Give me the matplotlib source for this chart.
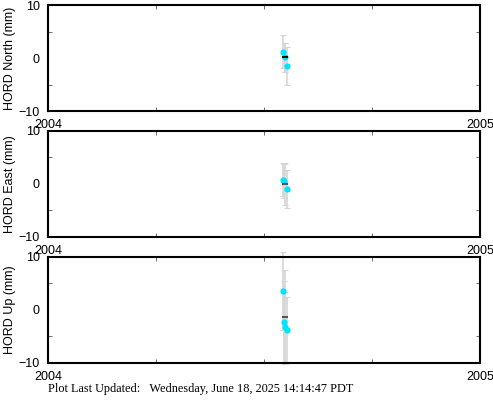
import matplotlib
matplotlib.use("Agg")
import matplotlib.pyplot as plt
from matplotlib.ticker import MultipleLocator

# decimal-year epochs and displacements (mm)
north_t = [2004.544, 2004.549, 2004.553]
north_v = [1.2, 0.1, -1.5]
north_e = [3.1, 2.7, 3.5]

east_t = [2004.544, 2004.546, 2004.553]
east_v = [0.8, 0.5, -0.9]
east_e = [3.1, 3.2, 3.6]

up_t = [2004.544, 2004.547, 2004.549, 2004.553]
up_v = [3.6, -2.3, -3.3, -3.8]
up_e = [7.3, 7.7, 6.6, 6.2]

# dark dash marks (one per panel) with their own error bars
mark_t = [2004.549, 2004.549, 2004.548]
mark_v = [0.1, 0.0, -1.3]
mark_e = [2.7, 4.0, 8.8]
mark_c = ["black", "#555555", "#555555"]

labels = ["HORD North (mm)", "HORD East (mm)", "HORD Up (mm)"]
series = [(north_t, north_v, north_e), (east_t, east_v, east_e), (up_t, up_v, up_e)]

fig = plt.figure(figsize=(4.93, 4.04), dpi=100)
plt.rcParams["font.family"] = "Liberation Sans"

bottoms = [0.7252, 0.4134, 0.1015]
for i, (t, v, e) in enumerate(series):
    ax = fig.add_axes([0.0974, bottoms[i], 0.8763, 0.2624])
    ax.errorbar(t, v, yerr=e, fmt="none", ecolor="#d6d6d6", elinewidth=1.2,
                capsize=2, capthick=0.8, clip_on=False, zorder=1)
    ax.errorbar(mark_t[i], mark_v[i], yerr=mark_e[i], fmt="none", ecolor="#d6d6d6",
                elinewidth=1.2, capsize=2, capthick=0.8, clip_on=False, zorder=1)
    ax.plot(t, v, "o", color="#00e5ff", markersize=4.5, markeredgewidth=0, zorder=2)
    ax.plot(mark_t[i], mark_v[i], "_", color=mark_c[i], markersize=4,
            markeredgewidth=1.5, zorder=3)
    ax.set_xlim(2004, 2005)
    ax.set_ylim(-10, 10)
    ax.set_xticks([2004, 2005])
    ax.set_xticklabels(["2004", "2005"])
    ax.xaxis.set_minor_locator(MultipleLocator(0.25))
    ax.set_yticks([-10, 0, 10])
    ax.set_yticklabels(["\u221210", "0", "10"])
    ax.yaxis.set_minor_locator(MultipleLocator(5))
    ax.tick_params(which="both", direction="in", top=True, right=True,
                   labelsize=9, width=0.6, color="#555555")
    ax.tick_params(which="major", length=0)
    ax.tick_params(which="minor", length=3)
    ax.tick_params(axis="x", pad=6)
    ax.tick_params(axis="y", pad=6)
    for s in ax.spines.values():
        s.set_linewidth(1.5)
    ax.set_ylabel(labels[i], fontsize=9, labelpad=2)

fig.text(0.0974, 0.022, "Plot Last Updated:   Wednesday, June 18, 2025 14:14:47 PDT",
         family="Liberation Serif", fontsize=8.8, ha="left", va="bottom")

fig.savefig("out.png", dpi=100)
